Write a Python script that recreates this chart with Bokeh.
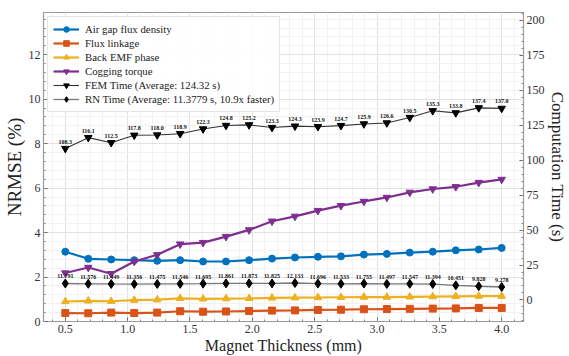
import math
from bokeh.plotting import figure
from bokeh.models import (Range1d, LinearAxis, SingleIntervalTicker, Legend, LegendItem,
                          ColumnDataSource, NumeralTickFormatter)
from bokeh.core.properties import value
from bokeh.embed import file_html
from bokeh.resources import INLINE

thickness = [0.5, 0.684, 0.868, 1.053, 1.237, 1.421, 1.605, 1.789, 1.974, 2.158,
             2.342, 2.526, 2.711, 2.895, 3.079, 3.263, 3.447, 3.632, 3.816, 4.0]
air_gap = [3.14, 2.82, 2.79, 2.76, 2.73, 2.76, 2.70, 2.70, 2.76, 2.83,
           2.88, 2.91, 2.93, 3.01, 3.04, 3.10, 3.14, 3.20, 3.24, 3.31]
flux_link = [0.38, 0.37, 0.40, 0.38, 0.40, 0.46, 0.44, 0.45, 0.47, 0.49,
             0.50, 0.52, 0.53, 0.55, 0.56, 0.57, 0.58, 0.59, 0.61, 0.61]
back_emf = [0.90, 0.93, 0.91, 0.96, 0.98, 1.04, 1.02, 1.03, 1.04, 1.06,
            1.07, 1.08, 1.09, 1.10, 1.10, 1.11, 1.12, 1.13, 1.14, 1.14]
cogging = [2.18, 2.43, 2.15, 2.70, 3.00, 3.48, 3.55, 3.82, 4.12, 4.51,
           4.73, 4.99, 5.21, 5.40, 5.58, 5.81, 5.96, 6.06, 6.25, 6.39]
fem_time = [108.3, 116.1, 112.5, 117.8, 118.0, 118.9, 122.3, 124.8, 125.2, 123.3,
            124.3, 123.9, 124.7, 125.9, 126.6, 130.5, 135.3, 133.8, 137.4, 137.0]
rn_time = [11.791, 11.576, 11.449, 11.356, 11.475, 11.546, 11.695, 11.861, 11.873, 11.825,
           12.133, 11.696, 11.533, 11.755, 11.497, 11.547, 11.394, 10.451, 9.828, 9.278]
fem_labels = ["%.1f" % v for v in fem_time]
rn_labels = ["%.3f" % v for v in rn_time]

SERIF = "Liberation Serif"

p = figure(width=569, height=356, output_backend="svg", toolbar_location=None,
           x_range=Range1d(0.325, 4.175), y_range=Range1d(0, 13.9),
           min_border_left=40, min_border_right=31, min_border_top=12, min_border_bottom=29)
p.extra_y_ranges = {"time": Range1d(-15.4, 205.6)}
p.outline_line_color = "#999999"
p.outline_line_width = 1.2
p.background_fill_color = "white"

bottom = p.below[0]
left = p.left[0]
bottom.ticker = SingleIntervalTicker(interval=0.5, num_minor_ticks=5)
bottom.formatter = NumeralTickFormatter(format="0.0")
left.ticker = SingleIntervalTicker(interval=2, num_minor_ticks=5)
bottom.axis_label = "Magnet Thickness (mm)"
left.axis_label = "NRMSE (%)"
right = LinearAxis(y_range_name="time", axis_label="Computation Time (s)",
                   ticker=SingleIntervalTicker(interval=25, num_minor_ticks=5))
p.add_layout(right, "right")

for ax in [bottom, left, right]:
    ax.axis_line_color = None
    ax.major_tick_in = 4
    ax.major_tick_out = 0
    ax.minor_tick_in = 2
    ax.minor_tick_out = 0
    ax.major_tick_line_color = "#666666"
    ax.minor_tick_line_color = "#888888"
    ax.major_label_text_font = SERIF
    ax.major_label_text_font_size = "12px"
    ax.major_label_text_color = "#333333"
    ax.axis_label_text_font = SERIF
    ax.axis_label_text_font_size = "16px"
    ax.axis_label_text_font_style = "normal"
    ax.axis_label_text_color = "#222222"
    ax.major_label_standoff = 3
left.axis_label_text_font_size = "19px"
right.axis_label_text_font_size = "17px"
bottom.axis_label_standoff = 1
left.axis_label_standoff = 1
right.axis_label_standoff = 0

# grid
p.xgrid.grid_line_color = "#e2e2e2"
p.ygrid.grid_line_color = "#e2e2e2"
p.xgrid.minor_grid_line_color = "#f2f2f2"
p.ygrid.minor_grid_line_color = "#f2f2f2"

src = ColumnDataSource(dict(x=thickness, air=air_gap, flux=flux_link, emf=back_emf, cog=cogging,
                            fem=fem_time, rn=rn_time, feml=fem_labels, rnl=rn_labels))

BLUE = "#0072BD"
RED = "#D95319"
YEL = "#EDB120"
PUR = "#7E2F8E"

items = []
def series(col, color, marker, size, label, width=2.2, yr="default", line_color=None):
    kw = {} if yr == "default" else {"y_range_name": yr}
    l = p.line("x", col, source=src, line_color=line_color or color, line_width=width, **kw)
    s = p.scatter("x", col, source=src, marker=marker, size=size, fill_color=color,
                  line_color=color, **kw)
    items.append(LegendItem(label=label, renderers=[l, s]))

series("air", BLUE, "circle", 7, "Air gap flux density")
series("flux", RED, "square", 7, "Flux linkage")
series("emf", YEL, "triangle", 7.5, "Back EMF phase")
series("cog", PUR, "inverted_triangle", 7.5, "Cogging torque")
series("fem", "black", "inverted_triangle", 7.5, "FEM Time (Average: 124.32 s)", width=1.1, yr="time",
       line_color="#333333")
series("rn", "black", "diamond", 9, "RN Time (Average: 11.3779 s, 10.9x faster)", width=1.3, yr="time",
       line_color="#777777")

p.text("x", "fem", text="feml", source=src, y_range_name="time", text_font=value(SERIF),
       text_font_style="bold", text_font_size="6px", text_align="center",
       text_baseline="bottom", y_offset=-5, text_color="#111111")
p.text("x", "rn", text="rnl", source=src, y_range_name="time", text_font=value(SERIF),
       text_font_style="bold", text_font_size="6px", text_align="center",
       text_baseline="bottom", y_offset=-5, text_color="#111111")

legend = Legend(items=items, location="top_left")
legend.label_text_font = SERIF
legend.label_text_font_size = "10.8px"
legend.label_text_color = "#222222"
legend.label_height = 14
legend.glyph_height = 14
legend.glyph_width = 26
legend.label_standoff = 6
legend.spacing = 0
legend.padding = 5
legend.margin = 4
legend.border_line_color = "#cccccc"
legend.background_fill_alpha = 0.9
p.add_layout(legend)

open("out.html", "w").write(file_html(p, INLINE))
